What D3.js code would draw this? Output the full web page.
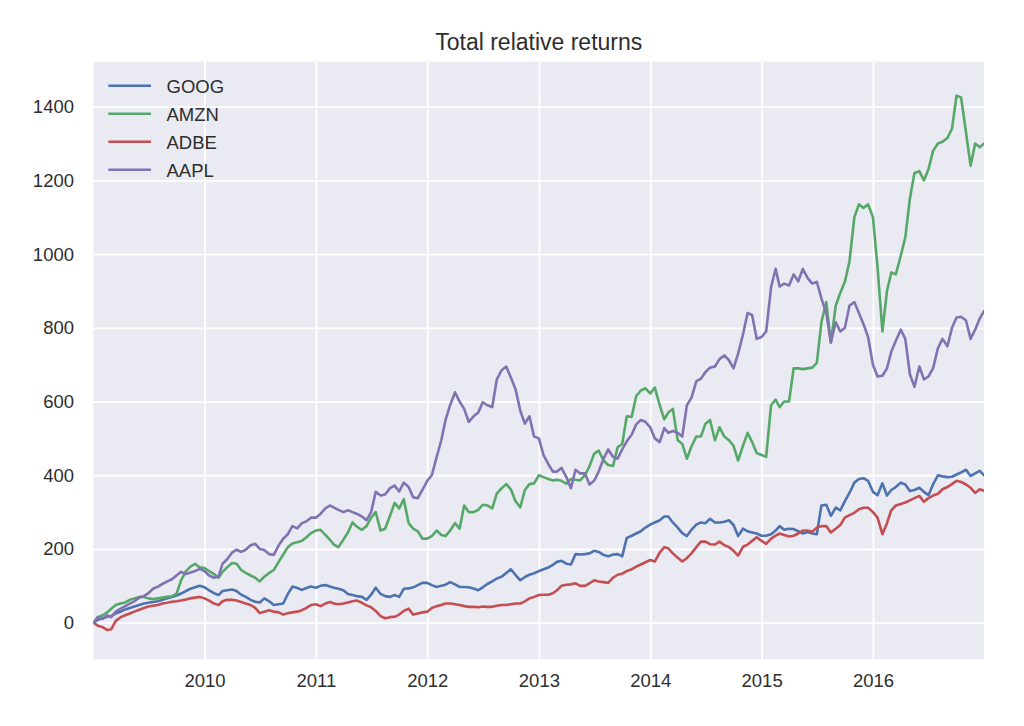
<!DOCTYPE html>
<html>
<head>
<meta charset="utf-8">
<script src="https://cdn.jsdelivr.net/npm/d3@7"></script>
<style>
  html, body { margin: 0; padding: 0; background: #ffffff; }
  svg { display: block; }
  text { font-family: "Liberation Sans", Arial, sans-serif; }
</style>
</head>
<body>
<svg id="chart" width="1024" height="726"></svg>
<script>
// ---------------- DATA ----------------
const title = "Total relative returns";
const seriesNames = ["GOOG", "AMZN", "ADBE", "AAPL"];
const seriesColors = ["#4C72B0", "#55A868", "#C44E52", "#8172B2"];
const yTickValues = [0, 200, 400, 600, 800, 1000, 1200, 1400];
const xTickYears = [2010, 2011, 2012, 2013, 2014, 2015, 2016];
const firstDate = "2009-01-02";
const lastDate = "2016-12-30";

// semi-monthly samples (1st and 16th of each month 2009-2016) + last day
const GOOG = [
  0,8,12,16,18,25,30,36,40,44,48,52,54,56,58,62,66,70,74,79,86,92,96,100,
  96,88,80,75,86,88,90,86,76,70,62,57,55,66,58,48,50,52,78,98,94,89,94,98,
  95,100,102,98,95,92,88,78,75,72,70,62,76,95,78,72,70,75,70,92,93,96,102,108,
  108,102,97,100,103,110,104,97,97,96,93,88,96,105,112,120,125,135,145,130,115,124,130,134,
  140,145,150,157,165,168,160,158,186,185,186,188,195,192,184,180,185,186,180,230,236,242,248,258,
  266,272,278,288,288,272,258,243,235,252,266,272,270,282,272,272,274,278,265,235,255,248,245,242,
  236,236,240,250,262,252,255,254,248,242,246,242,240,318,320,290,312,305,330,352,380,390,392,385,
  355,346,378,345,360,368,380,375,357,360,366,355,346,375,400,397,395,396,402,408,415,398,405,412,
  400
];
const AMZN = [
  0,15,20,28,38,48,52,55,62,66,70,70,66,64,66,68,70,72,78,115,140,152,160,150,
  148,140,132,122,138,150,162,160,143,135,128,122,112,125,135,143,165,185,205,215,218,222,232,243,
  250,252,238,225,212,205,225,245,272,260,252,262,285,300,250,255,290,325,310,335,270,255,248,228,
  228,235,250,238,235,250,270,255,318,300,300,306,320,318,310,350,365,376,362,330,313,360,376,378,
  400,395,390,386,388,385,377,390,388,386,400,425,458,467,440,428,425,476,485,560,558,615,630,636,
  622,638,590,552,570,580,495,485,445,478,505,505,540,550,495,530,505,495,480,440,480,515,490,460,
  455,450,590,605,585,600,600,690,690,688,690,692,705,815,870,760,860,895,925,980,1100,1135,1125,1135,
  1100,965,790,900,950,945,995,1045,1150,1220,1225,1200,1230,1280,1300,1305,1315,1340,1430,1425,1330,1240,1300,1290,
  1300
];
const ADBE = [
  0,-8,-12,-20,-18,5,15,20,25,30,35,40,44,46,48,52,54,57,58,60,63,66,68,70,
  66,60,52,48,58,62,62,60,56,52,48,40,26,30,34,30,28,22,26,28,30,34,40,48,
  50,45,52,56,52,50,52,55,58,60,54,47,42,32,18,12,15,16,22,32,38,22,25,28,
  30,40,45,48,52,52,50,48,45,43,43,42,44,43,43,46,48,48,50,52,52,58,66,70,
  75,76,76,80,88,100,103,104,107,100,100,107,115,112,110,108,122,130,133,140,145,152,158,164,
  170,166,190,205,202,188,176,166,175,188,205,220,220,213,212,220,210,205,195,182,206,212,222,232,
  222,214,228,236,242,238,234,236,242,250,250,247,258,262,262,245,255,265,285,292,298,308,312,312,
  300,285,240,270,305,318,322,326,332,338,344,328,338,345,350,362,368,376,385,382,375,366,352,362,
  358
];
const AAPL = [
  0,15,10,20,15,30,38,45,52,58,68,72,80,92,98,105,112,118,128,138,132,136,140,146,
  140,128,122,125,160,172,190,198,192,198,210,214,200,197,186,184,210,228,240,262,256,270,275,285,
  285,295,310,318,312,306,300,305,300,295,288,278,300,355,345,348,365,372,356,380,368,340,338,360,
  385,400,450,495,550,590,625,600,580,545,560,570,598,590,585,660,685,695,665,635,575,540,560,505,
  500,455,430,410,410,420,395,365,415,405,405,375,385,410,445,470,450,445,470,492,510,538,550,545,
  530,500,490,528,515,520,515,505,590,610,655,662,680,692,695,715,725,712,690,730,782,840,835,770,
  775,790,910,960,912,920,915,945,926,960,935,920,925,880,840,760,815,790,800,860,870,840,810,775,
  700,668,670,690,735,765,795,770,674,640,695,660,668,690,745,770,750,800,828,830,820,770,795,825,
  845
];
const seriesValues = [GOOG, AMZN, ADBE, AAPL];

// ---------------- DATES ----------------
const parse = d3.timeParse("%Y-%m-%d");
const dates = [];
for (let i = 0; i < 192; i++) {
  const yr = 2009 + Math.floor(i / 24);
  const mo = Math.floor((i % 24) / 2);
  const day = i % 2 ? 16 : 1;
  dates.push(new Date(yr, mo, day));
}
dates[0] = parse(firstDate);
dates.push(parse(lastDate));

// ---------------- LAYOUT ----------------
const svg = d3.select("#chart");
const plot = { left: 93.5, right: 984, top: 61.7, bottom: 659.3 };
const pw = plot.right - plot.left, ph = plot.bottom - plot.top;

const x = d3.scaleTime().domain([parse(firstDate), parse(lastDate)]).range([plot.left, plot.right]);
const y = d3.scaleLinear().domain([-99.3, 1522]).range([plot.bottom, plot.top]);

svg.append("rect")
  .attr("x", plot.left).attr("y", plot.top)
  .attr("width", pw).attr("height", ph)
  .attr("fill", "#EAEAF2");

// grid + axes
const xAxis = d3.axisBottom(x)
  .tickValues(xTickYears.map(yv => new Date(yv, 0, 1)))
  .tickFormat(d3.timeFormat("%Y"))
  .tickSizeInner(-ph).tickSizeOuter(0).tickPadding(15);
const gx = svg.append("g").attr("transform", `translate(0,${plot.bottom})`).call(xAxis);

const yAxis = d3.axisLeft(y)
  .tickValues(yTickValues)
  .tickFormat(d3.format("d"))
  .tickSizeInner(-pw).tickSizeOuter(0).tickPadding(19.5);
const gy = svg.append("g").attr("transform", `translate(${plot.left},0)`).call(yAxis);

[gx, gy].forEach(g => {
  g.select(".domain").remove();
  g.selectAll(".tick line").attr("stroke", "#ffffff").attr("stroke-width", 1.8);
  g.selectAll(".tick text").attr("fill", "#2e2e2e").style("font-size", "18.5px")
    .style("font-family", '"Liberation Sans", Arial, sans-serif');
});

// lines
const clip = svg.append("clipPath").attr("id", "clip").append("rect")
  .attr("x", plot.left).attr("y", plot.top).attr("width", pw).attr("height", ph);

const line = d3.line()
  .defined(d => d[1] != null && !isNaN(d[1]))
  .x(d => x(d[0])).y(d => y(d[1]));

const lines = svg.append("g").attr("clip-path", "url(#clip)");
seriesValues.forEach((vals, si) => {
  const pts = dates.map((dt, i) => [dt, vals[i]]);
  lines.append("path")
    .attr("d", line(pts))
    .attr("fill", "none")
    .attr("stroke", seriesColors[si])
    .attr("stroke-width", 2.6)
    .attr("stroke-linejoin", "round")
    .attr("stroke-linecap", "round");
});

// title
svg.append("text")
  .attr("x", (plot.left + plot.right) / 2).attr("y", 49.5)
  .attr("text-anchor", "middle")
  .attr("fill", "#2e2e2e")
  .style("font-size", "23px")
  .text(title);

// legend
const lg = svg.append("g");
seriesNames.forEach((name, i) => {
  const ly = 85.7 + i * 28;
  lg.append("line")
    .attr("x1", 108.3).attr("x2", 151).attr("y1", ly).attr("y2", ly)
    .attr("stroke", seriesColors[i]).attr("stroke-width", 2.6);
  lg.append("text")
    .attr("x", 166.5).attr("y", ly + 1)
    .attr("dy", "0.35em")
    .attr("fill", "#2e2e2e")
    .style("font-size", "18.5px")
    .text(name);
});
</script>
</body>
</html>
